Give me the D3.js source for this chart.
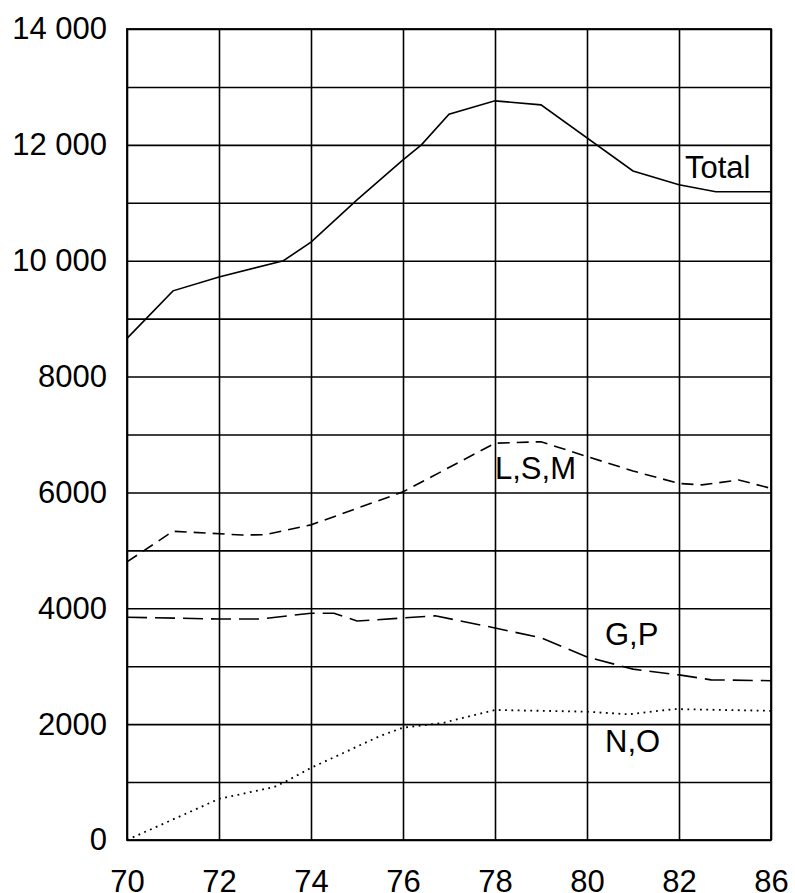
<!DOCTYPE html>
<html>
<head>
<meta charset="utf-8">
<script src="https://cdn.jsdelivr.net/npm/d3@7"></script>
<style>
  html, body { margin: 0; padding: 0; background: #fff; }
  svg { display: block; }
  text { font-family: "Liberation Sans", Arial, sans-serif; fill: #000; }
</style>
</head>
<body>
<svg id="chart" width="795" height="893"></svg>
<script>
// ---- data ----
const xTickValues = [70, 72, 74, 76, 78, 80, 82, 84];
const xTickLabels = ["70", "72", "74", "76", "78", "80", "82", "86"];
const yTickValues = [0, 2000, 4000, 6000, 8000, 10000, 12000, 14000];
const yTickLabels = ["0", "2000", "4000", "6000", "8000", "10 000", "12 000", "14 000"];

const totalYears = [70, 71, 72, 73.4, 74, 75, 76, 76.4, 77, 78, 79, 81, 82, 82.8, 84];
const totalValues = [8660, 9480, 9720, 10000, 10320, 11050, 11740, 12000, 12530, 12760, 12690, 11550, 11310, 11190, 11190];

const lsmYears = [70, 71, 72.5, 73, 74, 76, 78, 79, 80, 81, 82, 82.5, 83.3, 84];
const lsmValues = [4800, 5330, 5265, 5270, 5440, 6010, 6850, 6875, 6620, 6370, 6155, 6130, 6215, 6070];

const gpYears = [70, 72, 72.9, 74, 74.5, 75, 76.7, 78, 79, 80, 81, 82, 82.7, 84];
const gpValues = [3845, 3815, 3815, 3915, 3915, 3780, 3870, 3660, 3490, 3160, 2950, 2850, 2765, 2750];

const noYears = [70, 72, 73.2, 73.5, 74, 75.5, 76, 76.9, 77.2, 78, 80, 80.9, 81.9, 84];
const noValues = [0, 710, 915, 1030, 1245, 1795, 1940, 2025, 2090, 2245, 2215, 2170, 2260, 2230];

const seriesLabels = ["Total", "L,S,M", "G,P", "N,O"];

// ---- layout ----
const svg = d3.select("#chart");
const mLeft = 127, mRight = 771, mTop = 29, mBottom = 840;
const W = mRight - mLeft, H = mBottom - mTop;

const x = d3.scaleLinear().domain([70, 84]).range([mLeft, mRight]);
const y = d3.scaleLinear().domain([0, 14000]).range([mBottom, mTop]);

// grid
const gridX = d3.axisBottom(x).tickValues(xTickValues).tickSize(-H).tickFormat("");
const gridY = d3.axisLeft(y).tickValues(d3.range(0, 14001, 1000)).tickSize(-W).tickFormat("");

svg.append("g").attr("transform", `translate(0,${mBottom})`).call(gridX)
  .call(g => g.select(".domain").remove())
  .call(g => g.selectAll("line").attr("stroke", "#000").attr("stroke-width", 1.6));
svg.append("g").attr("transform", `translate(${mLeft},0)`).call(gridY)
  .call(g => g.select(".domain").remove())
  .call(g => g.selectAll("line").attr("stroke", "#000").attr("stroke-width", 1.6));

// frame
svg.append("rect").attr("x", mLeft).attr("y", mTop).attr("width", W).attr("height", H)
  .attr("fill", "none").attr("stroke", "#000").attr("stroke-width", 1.8);

// axes labels
const xAxis = d3.axisBottom(x).tickValues(xTickValues).tickSize(0).tickPadding(30)
  .tickFormat((d, i) => xTickLabels[i]);
const yAxis = d3.axisLeft(y).tickValues(yTickValues).tickSize(0).tickPadding(20)
  .tickFormat((d, i) => yTickLabels[i]);

svg.append("g").attr("transform", `translate(0,${mBottom})`).call(xAxis)
  .call(g => g.select(".domain").remove())
  .call(g => g.selectAll("text").attr("font-size", 31).attr("font-family", "Liberation Sans, Arial, sans-serif").attr("fill", "#000"));
svg.append("g").attr("transform", `translate(${mLeft},0)`).call(yAxis)
  .call(g => g.select(".domain").remove())
  .call(g => g.selectAll("text").attr("font-size", 31).attr("font-family", "Liberation Sans, Arial, sans-serif").attr("fill", "#000"));

// lines
const line = d3.line().x(d => x(d[0])).y(d => y(d[1]));
function draw(years, values, dash, width) {
  svg.append("path")
    .datum(years.map((yr, i) => [yr, values[i]]))
    .attr("d", line)
    .attr("fill", "none")
    .attr("stroke", "#000")
    .attr("stroke-width", width)
    .attr("stroke-dasharray", dash);
}
draw(totalYears, totalValues, null, 1.6);
draw(lsmYears, lsmValues, "12,7", 1.6);
draw(gpYears, gpValues, "20,8", 1.6);
draw(noYears, noValues, "1.8,4.5", 1.8);

// series labels
const labelPos = [[685, 178], [495, 479], [605, 645], [605, 752]];
svg.selectAll("text.series").data(seriesLabels).enter().append("text")
  .attr("class", "series")
  .attr("x", (d, i) => labelPos[i][0])
  .attr("y", (d, i) => labelPos[i][1])
  .attr("font-size", 31)
  .text(d => d);
</script>
</body>
</html>
